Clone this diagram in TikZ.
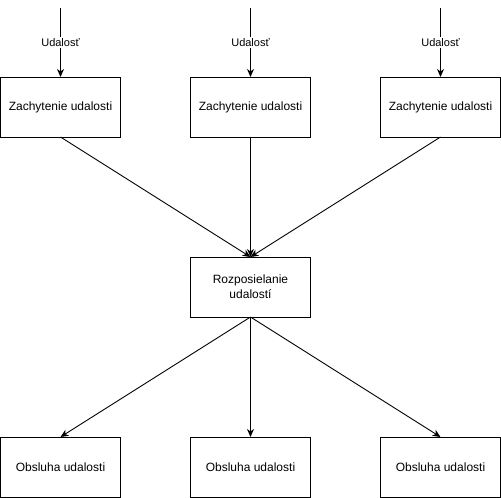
\documentclass[tikz,border=0pt]{standalone}
\usepackage{fontspec}
\setmainfont{Liberation Sans}
\usetikzlibrary{positioning}
\usetikzlibrary{arrows.meta}
\tikzset{%
  myedge/.style={->, line width=0.9pt, >={Stealth[length=8pt,width=7pt,inset=2.5pt]}},
  mybox/.style={rectangle, draw=black, line width=0.9pt, outer sep=0pt, minimum width=120pt, minimum height=60pt, align=center, font=\fontsize{12pt}{15pt}\selectfont},
  mylabel/.style={fill=white, inner sep=1pt, font=\fontsize{11pt}{13pt}\selectfont}
}

\begin{document}
\begin{tikzpicture}
  \useasboundingbox (0,0) rectangle (501pt,-498pt);
  \node[mybox] (z1) at (60.5pt,-107pt) {Zachytenie udalosti};
  \node[mybox, right=70pt of z1] (z2) {Zachytenie udalosti};
  \node[mybox, right=70pt of z2] (z3) {Zachytenie udalosti};
  \node[mybox, below=120pt of z2] (r) {Rozposielanie\\udalostí};
  \node[mybox, below=120pt of r] (o2) {Obsluha udalosti};
  \node[mybox, left=70pt of o2] (o1) {Obsluha udalosti};
  \node[mybox, right=70pt of o2] (o3) {Obsluha udalosti};
  \coordinate[above=69pt of z1.north] (e1);
  \coordinate[above=69pt of z2.north] (e2);
  \coordinate[above=69pt of z3.north] (e3);
  \draw [myedge] (e1) -- (z1) node [mylabel, midway] {Udalosť};
  \draw [myedge] (e2) -- (z2) node [mylabel, midway] {Udalosť};
  \draw [myedge] (e3) -- (z3) node [mylabel, midway] {Udalosť};
  \draw [myedge] (z1.south) -- (r.north);
  \draw [myedge] (z2.south) -- (r.north);
  \draw [myedge] (z3.south) -- (r.north);
  \draw [myedge] (r.south) -- (o1.north);
  \draw [myedge] (r.south) -- (o2.north);
  \draw [myedge] (r.south) -- (o3.north);
\end{tikzpicture}
\end{document}
